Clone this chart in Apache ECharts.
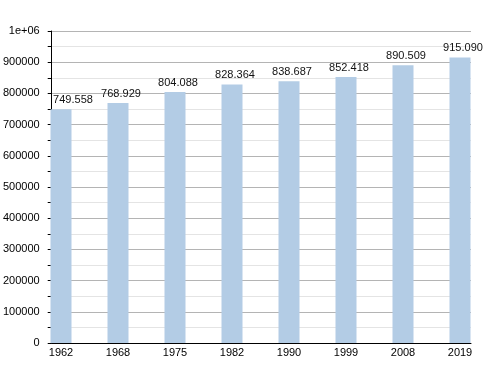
<!DOCTYPE html>
<html><head><meta charset="utf-8">
<script src="https://cdn.jsdelivr.net/npm/echarts@6/dist/echarts.min.js"></script>
<style>html,body{margin:0;padding:0;background:#fff}#c{width:500px;height:373px}</style>
</head><body><div id="c"></div>
<script>
const years = ['1962','1968','1975','1982','1990','1999','2008','2019'];
const population = [749558, 768929, 804088, 828364, 838687, 852418, 890509, 915090];
const populationLabels = ['749.558','768.929','804.088','828.364','838.687','852.418','890.509','915.090'];
const yMax = 1000000;
const yStep = 100000;

const chart = echarts.init(document.getElementById('c'), null, {renderer: 'canvas'});
const font = 'Liberation Sans, Arial, sans-serif';
const barData = population.map((v, i) => ({
  value: v,
  label: {offset: [i === 0 ? 12 : 3, 0]}
}));
chart.setOption({
  animation: false,
  backgroundColor: '#fff',
  grid: [
    {left: 50, right: 29, top: 31, bottom: 30},
    {left: 32.5, width: 456, top: 31, bottom: 30}
  ],
  xAxis: [
    {gridIndex: 0, type: 'value', min: 0, max: 1,
     axisLine: {show: true, lineStyle: {color: '#000', width: 1}},
     axisTick: {show: false}, axisLabel: {show: false}, splitLine: {show: false}},
    {gridIndex: 1, type: 'category', data: years, boundaryGap: true,
     axisLine: {show: false}, axisTick: {show: false},
     axisLabel: {color: '#000', fontSize: 11, fontFamily: font, margin: 4, interval: 0},
     splitLine: {show: false}}
  ],
  yAxis: [
    {gridIndex: 0, type: 'value', min: 0, max: yMax, interval: yStep,
     axisLine: {show: true, lineStyle: {color: '#000', width: 1}},
     axisTick: {show: true, length: 4, lineStyle: {color: '#000'}},
     minorTick: {show: true, splitNumber: 2, length: 4, lineStyle: {color: '#000'}},
     axisLabel: {color: '#000', fontSize: 11, fontFamily: font, margin: 12,
       formatter: v => v === 1000000 ? '1e+06' : String(v)},
     splitLine: {show: true, lineStyle: {color: '#b4b4b4', width: 1}},
     minorSplitLine: {show: true, lineStyle: {color: '#e4e4e4', width: 1}}},
    {gridIndex: 1, type: 'value', min: 0, max: yMax, show: false, splitLine: {show: false}}
  ],
  series: [{
    type: 'bar', xAxisIndex: 1, yAxisIndex: 1,
    data: barData, barWidth: 21,
    itemStyle: {color: '#b3cce5'},
    label: {show: true, position: 'top', distance: 4, color: '#111', fontSize: 11, fontFamily: font,
      formatter: p => populationLabels[p.dataIndex]},
    z: 3
  }]
});
</script></body></html>
